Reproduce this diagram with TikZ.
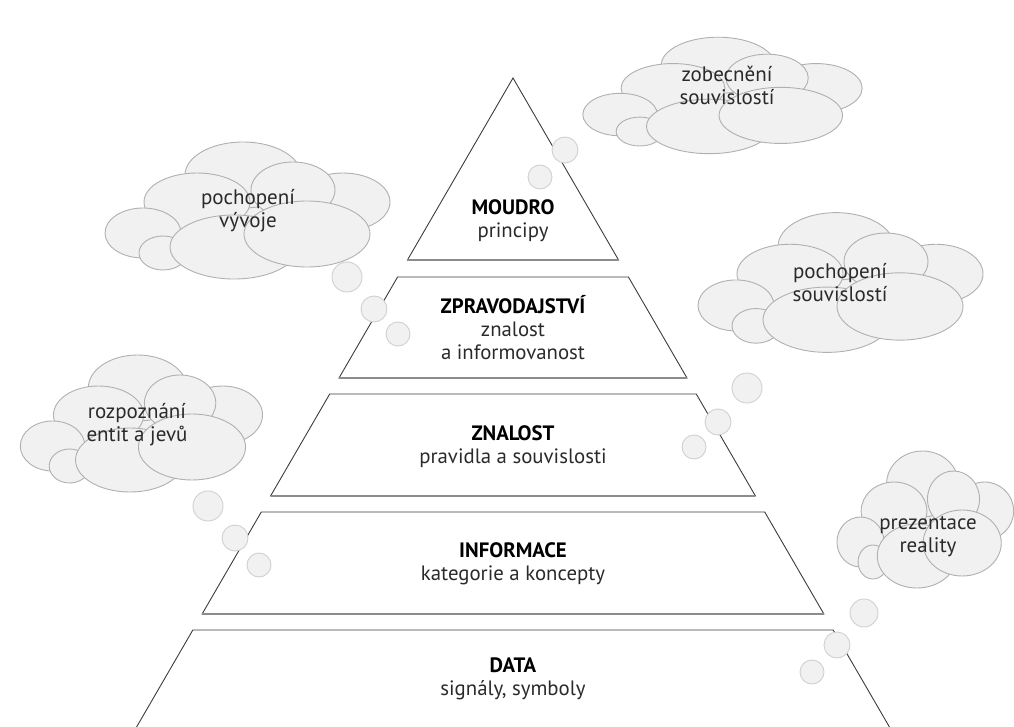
\documentclass[tikz,border=0pt]{standalone}
\usepackage{fontspec}
\setmainfont{PT Sans}
\usetikzlibrary{calc}
\definecolor{cloudfill}{HTML}{F1F1F1}
\definecolor{cloudline}{HTML}{B0B0B0}
\definecolor{bubbleline}{HTML}{D0D0D0}
\definecolor{edgedark}{HTML}{3C3C3C}
\definecolor{edgegray}{HTML}{8C8C8C}
\definecolor{textgray}{HTML}{2A2A2A}
\newcommand{\layerhead}[1]{{\color{black}\bfseries #1}}
\tikzset{
  puff/.style={fill=cloudfill, draw=cloudline, line width=0.9pt},
  bubble/.style={fill=cloudfill, draw=bubbleline, line width=0.9pt},
  layer/.style={draw=edgedark, line width=0.9pt},
  layerbase/.style={draw=edgegray, line width=2pt},
  level/.style={align=center, text=textgray, font=\fontsize{20.8}{23}\selectfont},
  thought/.style={align=center, text=textgray, font=\fontsize{21}{23}\selectfont},
  pics/cloudpuff/.style={code={
    \fill[cloudfill] (0,8) ellipse [x radius=95, y radius=42];
    \draw[puff] (-4,-35) ellipse [x radius=58, y radius=33];
    \draw[puff] (-50,-8) ellipse [x radius=53, y radius=29];
    \draw[puff] (96,-8) ellipse [x radius=47, y radius=29];
    \draw[puff] (46,-20) ellipse [x radius=42, y radius=28];
    \draw[puff] (-104,23) ellipse [x radius=38, y radius=25];
    \draw[puff] (-84,43) ellipse [x radius=24, y radius=17];
    \draw[puff] (-13,37) ellipse [x radius=64, y radius=32];
    \draw[puff] (60,24) ellipse [x radius=63, y radius=33];
  }}
}

\begin{document}
\begin{tikzpicture}[x=1pt, y=-1pt]
\useasboundingbox (0,0) rectangle (1014,727);

% pyramid, apex at (513,78)
\draw[layer] (513,78) -- ({513-0.58*182},260) -- ({513+0.58*182},260) -- cycle;
\draw[layerbase] ({513-0.58*182},260) -- ({513+0.58*182},260);
\foreach \t/\b in {277/378, 394/496, 512/614}
{
  \draw[layer] ({513-0.58*(\t-78)},\t) -- ({513+0.58*(\t-78)},\t)
    -- ({513+0.58*(\b-78)},\b) -- ({513-0.58*(\b-78)},\b) -- cycle;
  \draw[layerbase] ({513-0.58*(\b-78)},\b) -- ({513+0.58*(\b-78)},\b);
}
\draw[layer] ({513-0.58*649},727) -- ({513-0.58*552},630) -- ({513+0.58*552},630) -- ({513+0.58*649},727);

\node[level] (moudro)    at (513,221) {\layerhead{MOUDRO}\\principy};
\node[level] (zprav)     at (513,328) {\layerhead{ZPRAVODAJSTVÍ}\\znalost\\a informovanost};
\node[level] (znalost)   at (513,447) {\layerhead{ZNALOST}\\pravidla a souvislosti};
\node[level] (informace) at (513,564) {\layerhead{INFORMACE}\\kategorie a koncepty};
\node[level] (data)      at (513,679) {\layerhead{DATA}\\signály, symboly};

% clouds
\pic[xscale=0.98, yscale=0.85] at (722,95) {cloudpuff};
\pic at (247,210) {cloudpuff};
\pic[xscale=0.85] at (141,423) {cloudpuff};
\pic[yscale=1.02] at (840,282) {cloudpuff};
\pic[xscale=0.62] at (925,519) {cloudpuff};

\foreach \x/\y/\r in {565/150/13, 540/177/12,
  347/277/15, 374/309/13, 398/334/12,
  208/506/15, 235/538/13, 259/565/12,
  747/388/15, 718/422/13, 694/447/12,
  864/613/14, 837/645/13, 812/672/12}
{
  \draw[bubble] (\x,\y) circle [radius=\r];
}

\node[thought] (zobec)  at (727,85)  {zobecnění\\souvislostí};
\node[thought] (vyvoj)  at (248,211) {pochopení\\vývoje};
\node[thought] (entit)  at (137,425) {rozpoznání\\entit a jevů};
\node[thought] (souvis) at (840,283) {pochopení\\souvislostí};
\node[thought] (real)   at (928,537) {prezentace\\reality};
\end{tikzpicture}
\end{document}
